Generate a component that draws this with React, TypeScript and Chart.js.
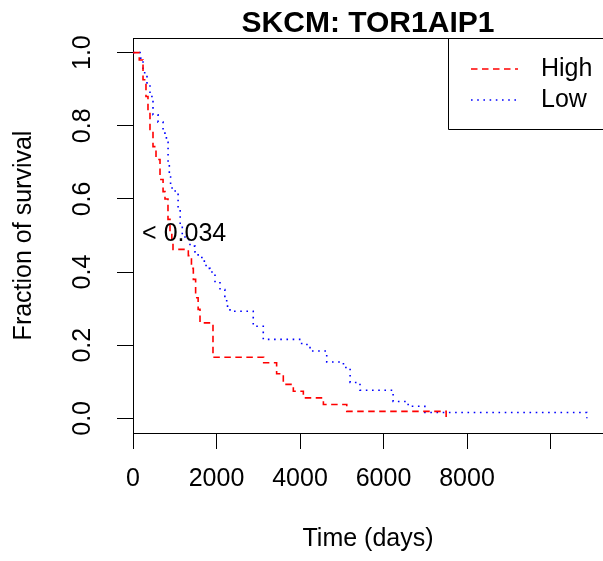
import React, { useEffect, useRef } from 'react';
import { Chart, registerables } from 'chart.js';

Chart.register(...registerables);

const FONT = '"Liberation Sans", Arial, Helvetica, sans-serif';

const chartTitle = 'SKCM: TOR1AIP1';
const xAxisTitle = 'Time (days)';
const yAxisTitle = 'Fraction of survival';
const pValueText = '< 0.034';
const pValueAt = [1225, 0.505];

const seriesNames = ['High', 'Low'];

// High expression group (Kaplan-Meier steps)
const highTimes = [0, 150, 240, 311, 359, 407, 479, 551, 647, 720, 766, 838, 886, 930, 958, 1325, 1400, 1445, 1500, 1560, 1605, 1916, 3130, 3440, 3600, 3840, 4080, 4560, 5120, 7500];
const highSurv = [1.0, 0.98, 0.926, 0.88, 0.836, 0.79, 0.743, 0.708, 0.653, 0.62, 0.6, 0.544, 0.508, 0.48, 0.462, 0.445, 0.41, 0.38, 0.33, 0.298, 0.261, 0.167, 0.152, 0.122, 0.093, 0.074, 0.056, 0.038, 0.019, 0.0];

// Low expression group
const lowTimes = [0, 100, 170, 240, 335, 407, 479, 600, 720, 800, 840, 870, 900, 1010, 1080, 1130, 1180, 1245, 1365, 1485, 1560, 1650, 1750, 1844, 1964, 2084, 2200, 2244, 2323, 2880, 3120, 4040, 4240, 4640, 5040, 5200, 5437, 6230, 6590, 6990, 10870];
const lowSurv = [1.0, 1.0, 0.985, 0.945, 0.915, 0.88, 0.83, 0.81, 0.78, 0.755, 0.70, 0.66, 0.63, 0.615, 0.57, 0.525, 0.50, 0.489, 0.471, 0.455, 0.44, 0.43, 0.41, 0.40, 0.371, 0.352, 0.325, 0.307, 0.293, 0.252, 0.216, 0.202, 0.184, 0.154, 0.139, 0.098, 0.077, 0.046, 0.033, 0.016, 0.0];

const xTicks = [0, 2000, 4000, 6000, 8000, 10000];
const xTickLabels = ['0', '2000', '4000', '6000', '8000', ''];
const yTicks = [0, 0.2, 0.4, 0.6, 0.8, 1.0];
const yTickLabels = ['0.0', '0.2', '0.4', '0.6', '0.8', '1.0'];

const xRange = [0, 11257];
const yRange = [-0.04, 1.04];

const seriesColors = ['#ff0000', '#0000ff'];
const seriesDashes = [[6.5, 4.5], [1.6, 4.6]];

const decorPlugin = {
  id: 'decor',
  afterDraw(chart: any) {
    const { ctx, chartArea } = chart;
    const { left, right, top } = chartArea;
    ctx.save();
    // top line of the plot box
    ctx.strokeStyle = '#000';
    ctx.lineWidth = 1;
    ctx.setLineDash([]);
    ctx.beginPath();
    ctx.moveTo(left, Math.round(top) + 0.5);
    ctx.lineTo(right + 5, Math.round(top) + 0.5);
    ctx.stroke();

    // title
    ctx.fillStyle = '#000';
    ctx.font = `bold 30px ${FONT}`;
    ctx.textAlign = 'center';
    ctx.textBaseline = 'alphabetic';
    ctx.fillText(chartTitle, (left + right) / 2, 32);

    // p-value text
    const xs = chart.scales.x;
    const ys = chart.scales.y;
    ctx.font = `25px ${FONT}`;
    ctx.textBaseline = 'middle';
    ctx.fillText(pValueText, xs.getPixelForValue(pValueAt[0]), ys.getPixelForValue(pValueAt[1]));

    // legend box
    const lx = 448;
    const ly = Math.round(top) + 0.5;
    const lb = 129.5;
    ctx.beginPath();
    ctx.moveTo(right + 5, ly);
    ctx.lineTo(lx + 0.5, ly);
    ctx.lineTo(lx + 0.5, lb);
    ctx.lineTo(right + 5, lb);
    ctx.stroke();

    const rowsY = [69, 100];
    seriesNames.forEach((name, i) => {
      ctx.strokeStyle = seriesColors[i];
      ctx.lineWidth = 1.6;
      ctx.setLineDash(seriesDashes[i]);
      ctx.beginPath();
      ctx.moveTo(471, rowsY[i]);
      ctx.lineTo(518, rowsY[i]);
      ctx.stroke();
      ctx.setLineDash([]);
      ctx.fillStyle = '#000';
      ctx.textAlign = 'left';
      ctx.textBaseline = 'middle';
      ctx.font = `25px ${FONT}`;
      ctx.fillText(name, 541, rowsY[i]);
    });
    ctx.restore();
  },
};

export default function App() {
  const ref = useRef<HTMLCanvasElement | null>(null);

  useEffect(() => {
    if (!ref.current) return;
    const mk = (times: number[], surv: number[]) => times.map((t, i) => ({ x: t, y: surv[i] }));
    const chart = new Chart(ref.current, {
      type: 'line',
      data: {
        datasets: [
          {
            label: seriesNames[0],
            data: mk(highTimes, highSurv),
            borderColor: seriesColors[0],
            borderWidth: 1.6,
            borderDash: seriesDashes[0],
            stepped: 'before',
            pointRadius: 0,
            fill: false,
          },
          {
            label: seriesNames[1],
            data: mk(lowTimes, lowSurv),
            borderColor: seriesColors[1],
            borderWidth: 1.6,
            borderDash: seriesDashes[1],
            stepped: 'before',
            pointRadius: 0,
            fill: false,
          },
        ],
      },
      options: {
        animation: false,
        responsive: false,
        events: [],
        layout: { padding: { top: 38, left: 0, right: 0, bottom: 0 } },
        plugins: {
          legend: { display: false },
          title: { display: false },
          tooltip: { enabled: false },
        },
        scales: {
          x: {
            type: 'linear',
            min: xRange[0],
            max: xRange[1],
            afterBuildTicks: (s: any) => {
              s.ticks = xTicks.map((v) => ({ value: v }));
            },
            afterFit: (s: any) => {
              s.height = 128;
            },
            ticks: {
              autoSkip: false,
              maxRotation: 0,
              minRotation: 0,
              padding: 15,
              color: '#000',
              font: { family: FONT, size: 25 },
              callback: (v: any) => {
                const i = xTicks.indexOf(Number(v));
                return i >= 0 ? xTickLabels[i] : '';
              },
            },
            grid: { drawOnChartArea: false, drawTicks: true, tickLength: 16, color: '#000', lineWidth: 1 },
            border: { display: true, color: '#000', width: 1 },
            title: {
              display: true,
              text: xAxisTitle,
              color: '#000',
              font: { family: FONT, size: 25 },
              padding: { top: 0, bottom: 7 },
            },
          },
          y: {
            type: 'linear',
            min: yRange[0],
            max: yRange[1],
            afterBuildTicks: (s: any) => {
              s.ticks = yTicks.map((v) => ({ value: v }));
            },
            afterFit: (s: any) => {
              s.width = 133;
            },
            ticks: {
              autoSkip: false,
              minRotation: 90,
              maxRotation: 90,
              crossAlign: 'center',
              padding: 17,
              color: '#000',
              font: { family: FONT, size: 25 },
              callback: (v: any) => {
                const i = yTicks.findIndex((t) => Math.abs(t - Number(v)) < 1e-9);
                return i >= 0 ? yTickLabels[i] : '';
              },
            },
            grid: { drawOnChartArea: false, drawTicks: true, tickLength: 16, color: '#000', lineWidth: 1 },
            border: { display: true, color: '#000', width: 1 },
            title: {
              display: true,
              text: yAxisTitle,
              color: '#000',
              font: { family: FONT, size: 25 },
              padding: { top: 9, bottom: 0 },
            },
          },
        },
      },
      plugins: [decorPlugin],
    } as any);
    return () => chart.destroy();
  }, []);

  return (
    <div style={{ position: 'fixed', left: 0, top: 0, width: 603, height: 561, overflow: 'hidden', background: '#fff' }}>
      <canvas ref={ref} width={603} height={561} style={{ display: 'block' }} />
    </div>
  );
}
